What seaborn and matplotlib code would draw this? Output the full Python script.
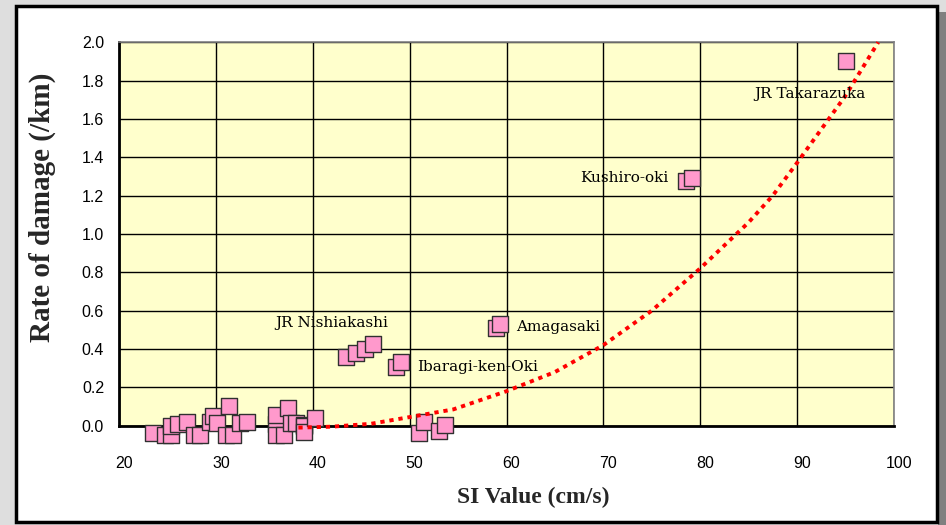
import numpy as np
import pandas as pd
import matplotlib
matplotlib.use("Agg")
import matplotlib.pyplot as plt
import matplotlib.patches as mpatches
import matplotlib.transforms as mtrans
import seaborn as sns

# SI value (cm/s) and rate of damage (/km) for each observation
si_value = [
    23.5, 24.7, 25.35, 25.3, 26.1, 27.0, 27.7, 28.35, 29.4, 29.65, 31.3, 30.1,
    31.0, 31.7, 32.45, 33.2,
    36.2, 36.2, 37.4, 36.2, 37.0, 37.7, 38.3, 39.1, 39.1, 39.1, 40.2,
    51.0, 51.5, 53.05, 53.6,
    43.4, 44.45, 45.4, 46.2,
    48.6, 49.1,
    58.9, 59.3,
    78.5, 79.2,
    95.1,
]
damage_rate = [
    -0.04, -0.05, -0.048, 0.0, 0.01, 0.02, -0.048, -0.048, 0.02, 0.05, 0.105, 0.016,
    -0.048, -0.048, 0.016, 0.018,
    0.01, 0.056, 0.09, -0.048, -0.048, 0.014, 0.012, 0.005, 0.0, -0.035, 0.04,
    -0.04, 0.02, -0.03, 0.004,
    0.358, 0.378, 0.40, 0.425,
    0.308, 0.334,
    0.51, 0.532,
    1.278, 1.29,
    1.90,
]

# Trend curve of damage rate against SI value
trend_si = [38.5, 42, 46, 50, 54.5, 60, 65, 70, 75, 80, 85, 87.5, 90, 95, 98.4]
trend_rate = [-0.01, -0.005, 0.01, 0.045, 0.085, 0.18, 0.28, 0.42, 0.60, 0.82,
              1.06, 1.2, 1.37, 1.72, 2.0]

# Named earthquake / site labels
label_text = ["JR Takarazuka", "Kushiro-oki", "Amagasaki", "Ibaragi-ken-Oki", "JR Nishiakashi"]
label_x = [85.6, 76.75, 61.0, 50.75, 36.1]
label_y = [1.73, 1.29, 0.516, 0.308, 0.535]
label_ha = ["left", "right", "left", "left", "left"]

x_ticks = [20, 30, 40, 50, 60, 70, 80, 90, 100]
y_ticks = [0.0, 0.2, 0.4, 0.6, 0.8, 1.0, 1.2, 1.4, 1.6, 1.8, 2.0]

df = pd.DataFrame({"si": si_value, "rate": damage_rate})
trend = pd.DataFrame({"si": trend_si, "rate": trend_rate})

sns.set_theme(style="white")
plt.rcParams["font.family"] = ["Liberation Sans", "DejaVu Sans"]

fig = plt.figure(figsize=(9.46, 5.25), dpi=100)
fig.patch.set_facecolor("#dedede")

# white chart panel with black frame and right-hand shadow
fig.patches.append(mpatches.Rectangle((938 / 946, 0), 8 / 946, 1 - 12 / 525,
                                      transform=fig.transFigure, facecolor="#808080",
                                      edgecolor="none", zorder=0))
fig.patches.append(mpatches.Rectangle((16 / 946, 3 / 525), 921 / 946, 516 / 525,
                                      transform=fig.transFigure, facecolor="white",
                                      edgecolor="black", linewidth=2.5, zorder=0))

ax = fig.add_axes([119.3 / 946, 1 - 425.7 / 525, 774.4 / 946, 383.4 / 525])
ax.set_facecolor("#ffffcc")
ax.set_zorder(1)

ax.set_xlim(20, 100)
ax.set_ylim(0, 2.0)
ax.set_xticks(x_ticks)
ax.set_yticks(y_ticks)
ax.set_yticklabels([f"{v:.1f}" for v in y_ticks])
ax.grid(True, color="black", linewidth=1.0)
ax.set_axisbelow(True)

for side in ["top", "right"]:
    ax.spines[side].set_color("#808080")
    ax.spines[side].set_linewidth(1.2)
for side in ["left", "bottom"]:
    ax.spines[side].set_color("black")
    ax.spines[side].set_linewidth(2.0)

ax.tick_params(axis="both", length=0, labelsize=11.5, colors="black")
ax.tick_params(axis="x", pad=22)
ax.tick_params(axis="y", pad=11)
shift = mtrans.ScaledTranslation(5 / 100, 0, fig.dpi_scale_trans)
for lbl in ax.get_xticklabels():
    lbl.set_transform(lbl.get_transform() + shift)

sns.scatterplot(data=df, x="si", y="rate", ax=ax, marker="s", s=130,
                color="#ff99cc", edgecolor="#303030", linewidth=1.0,
                clip_on=False, zorder=3, legend=False)

sns.lineplot(data=trend, x="si", y="rate", ax=ax, color="#ff0000",
             linewidth=2.8, linestyle=(0, (1.1, 1.25)), zorder=4,
             sort=False, estimator=None, clip_on=False)

for t, x, y, ha in zip(label_text, label_x, label_y, label_ha):
    ax.text(x, y, t, ha=ha, va="center", fontsize=11,
            family=["DejaVu Serif"], color="black", zorder=5)

ax.set_xlabel("")
ax.set_ylabel("")
fig.text(533.5 / 946, 1 - 497 / 525, "SI Value (cm/s)", ha="center", va="center",
         fontsize=17, fontweight="bold", family=["Liberation Serif"])
fig.text(42 / 946, 1 - 207 / 525, "Rate of damage (/km)", ha="center", va="center",
         rotation=90, fontsize=21, fontweight="bold", family=["Liberation Serif"])

fig.savefig("out.png", dpi=100, facecolor=fig.get_facecolor())
